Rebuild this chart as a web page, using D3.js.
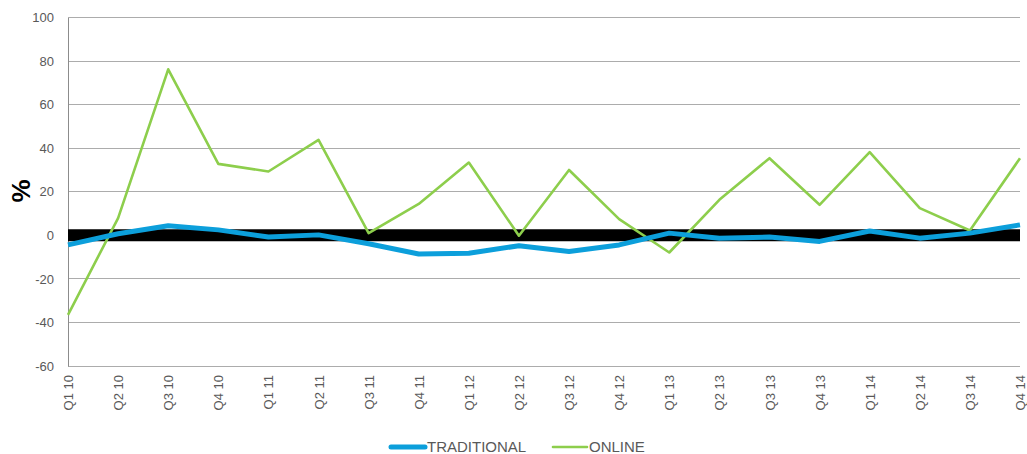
<!DOCTYPE html>
<html><head><meta charset="utf-8">
<script src="https://cdn.jsdelivr.net/npm/d3@7"></script>
<style>body{margin:0;background:#fff}svg{display:block}</style>
</head><body><svg id="c" width="1027" height="454"></svg>
<script>
const categories = ["Q1 10","Q2 10","Q3 10","Q4 10","Q1 11","Q2 11","Q3 11","Q4 11","Q1 12","Q2 12","Q3 12","Q4 12","Q1 13","Q2 13","Q3 13","Q4 13","Q1 14","Q2 14","Q3 14","Q4 14"];
const traditional = [-4.4,0.7,4.4,2.5,-0.8,0.2,-3.9,-8.6,-8.2,-4.8,-7.4,-4.4,1,-1.3,-0.8,-2.8,2,-1.3,1,4.8];
const online = [-36.5,7.9,76.2,32.8,29.3,43.8,1,14.4,33.4,-0.2,30,7.4,-7.9,16.3,35.4,14,38.2,12.5,2.2,35.4];
const yTicks = [-60,-40,-20,0,20,40,60,80,100];
const seriesNames = ["TRADITIONAL","ONLINE"];

const svg = d3.select("#c");
const font = "'Liberation Sans', Arial, sans-serif";
const x = d3.scalePoint().domain(categories).range([68,1020]);
const y = d3.scaleLinear().domain([-60,100]).range([366,17.5]);

// gridlines
svg.append("g").selectAll("line").data(yTicks.filter(d=>d!==0)).join("line")
  .attr("x1",68).attr("x2",1020).attr("y1",d=>y(d)).attr("y2",d=>y(d))
  .attr("stroke","#acacac").attr("stroke-width",1).attr("shape-rendering","crispEdges");

// y axis
const yAxis = svg.append("g").attr("transform","translate(68,0)")
  .call(d3.axisLeft(y).tickValues(yTicks).tickFormat(d=>String(d)).tickSize(0).tickPadding(14));
yAxis.select(".domain").attr("stroke","#8c8c8c");
yAxis.selectAll("text").attr("font-family",font).attr("font-size",13).attr("fill","#595959");

// zero band
svg.append("line").attr("x1",68).attr("x2",1020).attr("y1",y(0)).attr("y2",y(0))
  .attr("stroke","#000").attr("stroke-width",12);

// x labels
const xAxis = svg.append("g").attr("transform","translate(0,366)")
  .call(d3.axisBottom(x).tickSize(0).tickPadding(0));
xAxis.select(".domain").remove();
xAxis.selectAll("text").attr("font-family",font).attr("font-size",13).attr("fill","#595959")
  .attr("text-anchor","end").attr("transform","translate(0,9) rotate(-90)")
  .attr("dx",0).attr("dy","0.35em").attr("y",0);

// y title
svg.append("text").attr("transform","translate(21,191) rotate(-90)")
  .attr("text-anchor","middle").attr("dy","0.35em")
  .attr("font-family",font).attr("font-size",26).attr("font-weight","bold").attr("fill","#000").text("%");

const line = d3.line().x((d,i)=>x(categories[i])).y(d=>y(d));
svg.append("path").datum(online).attr("d",line).attr("fill","none")
  .attr("stroke","#8dce4c").attr("stroke-width",2.6).attr("stroke-linejoin","round");
svg.append("path").datum(traditional).attr("d",line).attr("fill","none")
  .attr("stroke","#0c9fdb").attr("stroke-width",5).attr("stroke-linejoin","round");

// legend
const leg = [{name:seriesNames[0],color:"#0c9fdb",w:5,x0:391},{name:seriesNames[1],color:"#8dce4c",w:2.6,x0:553}];
const lg = svg.append("g");
leg.forEach(l=>{
  lg.append("line").attr("x1",l.x0).attr("x2",l.x0+34).attr("y1",447).attr("y2",447)
    .attr("stroke",l.color).attr("stroke-width",l.w).attr("stroke-linecap","round");
  lg.append("text").attr("x",l.x0+36).attr("y",447).attr("dy","0.35em")
    .attr("font-family",font).attr("font-size",15).attr("fill","#595959").text(l.name);
});
</script></body></html>
